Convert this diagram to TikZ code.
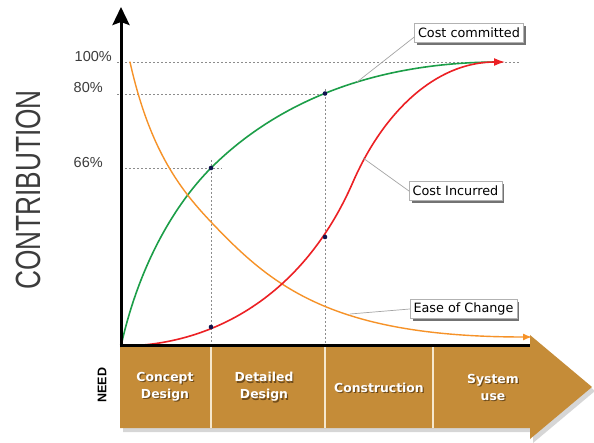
\documentclass[tikz,border=0pt]{standalone}
\usepackage{fontspec}
\setmainfont{DejaVu Sans}
\newfontfamily\arialfont{Liberation Sans}
\usetikzlibrary{arrows.meta,shadows}
\definecolor{bandc}{RGB}{197,140,56}
\definecolor{bandsh}{RGB}{90,60,20}
\definecolor{cgreen}{RGB}{28,158,72}
\definecolor{cred}{RGB}{236,32,36}
\definecolor{corange}{RGB}{246,146,40}
\definecolor{dotc}{RGB}{16,20,78}
\definecolor{gridc}{RGB}{140,140,140}
\definecolor{leadc}{RGB}{165,165,165}
\definecolor{labgray}{RGB}{60,60,60}
\definecolor{divc}{RGB}{246,232,205}
\begin{document}
\begin{tikzpicture}[x=1pt,y=-1pt,
  gridline/.style={gridc, line width=0.8pt, dash pattern=on 2pt off 2pt},
  curveline/.style={line width=1.6pt, line cap=round},
  callout/.style={draw=black!30, fill=white, line width=0.5pt, inner xsep=3.5pt, inner ysep=2pt,
     minimum height=18.5pt,
     font=\fontsize{12.8}{12.8}\selectfont,
     drop shadow={shadow xshift=2.5pt, shadow yshift=-2.5pt, fill=black!55, opacity=1}},
  leader/.style={leadc, line width=0.7pt},
  pct/.style={text=labgray, font=\arialfont\fontsize{14.5}{14.5}\selectfont, inner sep=0pt, anchor=base west},
  phase/.style={text=white, font=\bfseries\fontsize{12.4}{17}\selectfont, align=center},
  phaseshadow/.style={text=bandsh, opacity=0.8, font=\bfseries\fontsize{12.4}{17}\selectfont, align=center},
  datadot/.style={circle, fill=dotc, inner sep=0pt, minimum size=4.6pt},
  divider/.style={divc, line width=1.8pt}
]
\useasboundingbox (0,0) rectangle (594,443);
\fill[white] (0,0) rectangle (594,443);

% band with shadow
\fill[black!35, opacity=0.45] (123,351) -- (533,351) -- (533,339) -- (595,391) -- (533,443) -- (533,432) -- (123,432) -- cycle;
\fill[bandc] (120,347) -- (530,347) -- (530,335) -- (592,387) -- (530,439) -- (530,428) -- (120,428) -- cycle;
\draw[divider] (211,347) -- (211,428);
\draw[divider] (325,347) -- (325,428);
\draw[divider] (433,347) -- (433,428);

% phase labels
\node[phaseshadow] at (166.2,388.2) {Concept\\Design};
\node[phase] (concept) at (165,387) {Concept\\Design};
\node[phaseshadow] at (265.2,388.2) {Detailed\\Design};
\node[phase] (detailed) at (264,387) {Detailed\\Design};
\node[phaseshadow] at (380.2,389.2) {Construction};
\node[phase] (construction) at (379,388) {Construction};
\node[phaseshadow] at (494.2,388.2) {System\\use};
\node[phase] (sysuse) at (493,387) {System\\use};

% grid lines
\draw[gridline] (117,62) -- (520,62);
\draw[gridline] (117,94) -- (325,94);
\draw[gridline] (125,168) -- (222,168);
\draw[gridline] (211,160) -- (211,346);
\draw[gridline] (325,89) -- (325,346);

% percent labels
\node[pct] (p100) at (74.5,61.5) {100\%};
\node[pct] (p80) at (73.5,93) {80\%};
\node[pct] (p66) at (73.5,167.5) {66\%};

% curves
\draw[curveline, cgreen] (121,346) .. controls (141,256) and (181,198) .. (211,168)
   .. controls (261,118) and (350,62) .. (500,62);
\draw[curveline, corange, line width=1.4pt, -{Latex[length=9pt,width=7pt]}]
   (130,62) .. controls (150,152) and (182,191.5) .. (212,223)
   .. controls (272,286) and (332,337) .. (532,337);
\draw[curveline, cred, -{Latex[length=11pt,width=8pt]}]
   (121,346) .. controls (211,346) and (303,297) .. (353,182)
   .. controls (383,113) and (435,62) .. (505,62);

% data dots
\node[datadot] (g1) at (211,168) {};
\node[datadot] (g2) at (325,93.5) {};
\node[datadot] (r1) at (211,327) {};
\node[datadot] (r2) at (325,237) {};

% axes
\draw[black, line width=3pt] (119.5,346) -- (530,346);
\draw[black, line width=3pt, -{Stealth[length=18pt,width=17pt,inset=3pt]}] (121,347.5) -- (121,7);

% callouts
\coordinate (gc) at (357,82);
\coordinate (rc) at (363,158);
\coordinate (oc) at (350,314);
\node[callout] (cc) at (469,33) {Cost committed};
\node[callout] (ci) at (455.5,191) {Cost Incurred};
\node[callout] (ec) at (463.5,309) {Ease of Change};
\draw[leader] ([yshift=-4pt]cc.west) -- (gc);
\draw[leader] (ci.west) -- (rc);
\draw[leader] (ec.west) -- (oc);

% axis titles
\node[rotate=90, font=\arialfont\bfseries\fontsize{12.5}{12.5}\selectfont] (need) at (102,385) {NEED};
\node[rotate=90, text=labgray, inner sep=0pt] (contrib) at (28,190) {\scalebox{0.75}[1]{\arialfont\fontsize{35}{35}\selectfont CONTRIBUTION}};
\end{tikzpicture}
\end{document}
